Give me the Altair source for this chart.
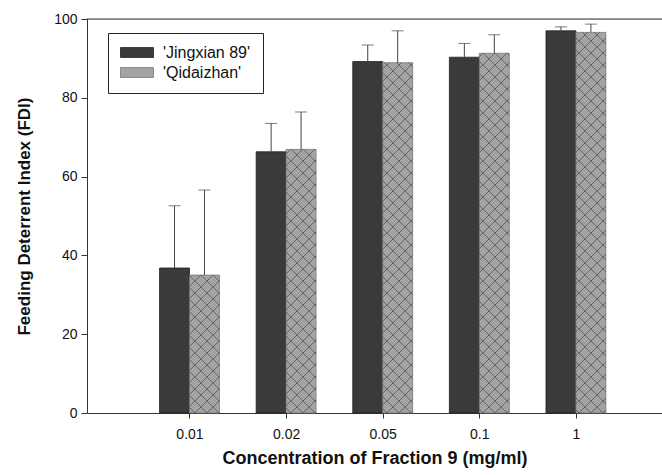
import altair as alt
import pandas as pd
import numpy as np

# ---- data ----
concs = ["0.01", "0.02", "0.05", "0.1", "1"]
cultivars = ["'Jingxian 89'", "'Qidaizhan'"]
jingxian_fdi = [36.8, 66.3, 89.2, 90.3, 97.0]
jingxian_sd = [15.8, 7.2, 4.2, 3.5, 1.0]
qidaizhan_fdi = [35.0, 66.9, 88.9, 91.3, 96.6]
qidaizhan_sd = [21.6, 9.5, 8.1, 4.7, 2.1]

# ---- layout ----
W, H = 575, 394
X_DOMAIN = [-0.061, 5.891]
BAR_W = 0.31
FONT = "Liberation Sans"
AX = "#333333"
DARK = "#3a3a3a"
LIGHT = "#a3a3a3"

kx = W / (X_DOMAIN[1] - X_DOMAIN[0])
ky = H / 100.0

rows = []
for i, c in enumerate(concs):
    pos = i + 1
    rows.append(dict(conc=c, cultivar=cultivars[0], x0=pos - BAR_W, x1=pos,
                     xm=pos - BAR_W / 2, fdi=jingxian_fdi[i],
                     top=jingxian_fdi[i] + jingxian_sd[i]))
    rows.append(dict(conc=c, cultivar=cultivars[1], x0=pos, x1=pos + BAR_W,
                     xm=pos + BAR_W / 2, fdi=qidaizhan_fdi[i],
                     top=qidaizhan_fdi[i] + qidaizhan_sd[i]))
df = pd.DataFrame(rows)

# cross-hatch pattern for the 'Qidaizhan' bars (derived from the bars above)
P = 12.0
seg = []
for r in df[df.cultivar == cultivars[1]].itertuples():
    gx0 = (r.x0 - X_DOMAIN[0]) * kx
    gx1 = (r.x1 - X_DOMAIN[0]) * kx
    h = r.fdi * ky
    k = np.ceil(gx0 / P)
    while k * P < gx1 + h:
        c = k * P
        xa, xb = max(gx0, c - h), min(gx1, c)
        if xb > xa:
            seg.append((xa, c - xa, xb, c - xb))
        k += 1
    k = np.ceil((gx0 - h) / P)
    while k * P < gx1:
        c = k * P
        xa, xb = max(gx0, c), min(gx1, c + h)
        if xb > xa:
            seg.append((xa, xa - c, xb, xb - c))
        k += 1
hatch = pd.DataFrame(
    [dict(hx=X_DOMAIN[0] + a / kx, hy=b / ky, hx2=X_DOMAIN[0] + cc / kx, hy2=d / ky)
     for a, b, cc, d in seg])

xscale = alt.Scale(domain=X_DOMAIN, nice=False, zero=False)
yscale = alt.Scale(domain=[0, 100], nice=False)

label_expr = "[" + ",".join("'%s'" % c for c in concs) + "][datum.value - 1]"

xaxis = alt.Axis(values=[1, 2, 3, 4, 5], labelExpr=label_expr, grid=False,
                 tickSize=5, labelPadding=9, labelFontSize=14, labelFont=FONT,
                 labelColor="#111", domainColor=AX, tickColor=AX,
                 titleFont=FONT, titleFontSize=18, titleFontWeight="bold",
                 titleColor="#111", titlePadding=8)
yaxis = alt.Axis(values=[0, 20, 40, 60, 80, 100], grid=False, tickSize=6,
                 labelPadding=4, labelFontSize=14, labelFont=FONT,
                 labelColor="#111", domainColor=AX, tickColor=AX,
                 titleFont=FONT, titleFontSize=17, titleFontWeight="bold",
                 titleColor="#111", titlePadding=20)
XT = "Concentration of Fraction 9 (mg/ml)"
YT = "Feeding Deterrent Index (FDI)"


def X(f):
    return alt.X(f, scale=xscale, axis=xaxis, title=XT)


def Y(f):
    return alt.Y(f, scale=yscale, axis=yaxis, title=YT)


bars = alt.Chart(df).mark_bar(strokeWidth=0.8).encode(
    x=X("x0:Q"),
    x2="x1:Q",
    y=Y("fdi:Q"),
    y2=alt.datum(0),
    fill=alt.Fill("cultivar:N",
                  scale=alt.Scale(domain=cultivars, range=[DARK, LIGHT]),
                  legend=alt.Legend(title=None, orient="none", legendX=21, legendY=14,
                                    symbolType="M-1,-0.3H1V0.3H-1Z", symbolSize=1089,
                                    symbolStrokeColor="#555", symbolStrokeWidth=0.8,
                                    clipHeight=15, rowPadding=3, labelOffset=9,
                                    labelFontSize=16, labelFont=FONT, labelColor="#111",
                                    padding=12, strokeColor="#222", fillColor="white")),
    stroke=alt.Stroke("cultivar:N",
                      scale=alt.Scale(domain=cultivars, range=["#222222", "#777777"]),
                      legend=None),
)

hatch_layer = alt.Chart(hatch).mark_rule(color="#555555", strokeWidth=0.8).encode(
    x=X("hx:Q"), x2="hx2:Q",
    y=Y("hy:Q"), y2="hy2:Q",
)

err = alt.Chart(df).mark_rule(color="#444444", strokeWidth=1).encode(
    x=X("xm:Q"),
    y=Y("fdi:Q"), y2="top:Q",
)
caps = alt.Chart(df).mark_tick(orient="horizontal", size=12, thickness=1,
                               color="#444444").encode(
    x=X("xm:Q"),
    y=Y("top:Q"),
)

top_border = alt.Chart(pd.DataFrame({"v": [100]})).mark_rule(color=AX).encode(
    y=Y("v:Q")
)

chart = alt.layer(bars, hatch_layer, err, caps, top_border).properties(
    width=W, height=H,
    autosize=alt.AutoSizeParams(type="none"),
    padding={"left": 87, "top": 19, "right": 0, "bottom": 62},
).configure_view(stroke=None).configure(background="white")

chart.save("out.html", embed_options={"renderer": "svg", "actions": False})
